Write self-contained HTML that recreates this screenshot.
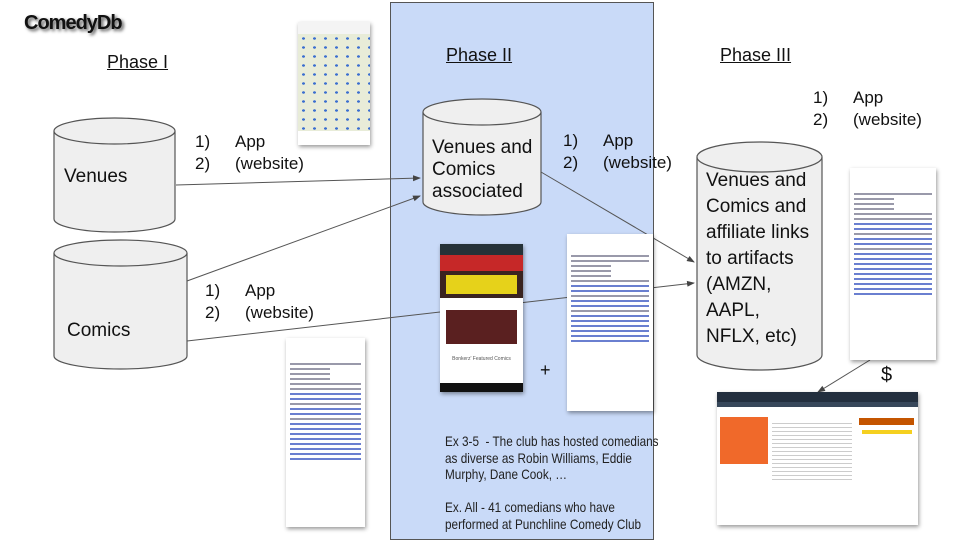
<!DOCTYPE html>
<html><head><style>
body{margin:0;width:960px;height:540px;position:relative;background:#fff;font-family:"Liberation Sans",sans-serif;overflow:hidden}
.t{position:absolute;white-space:nowrap;color:#111}
.ph{font-size:18px;text-decoration:underline}
.lab{font-size:17px;line-height:22px}
.lab span{display:inline-block;width:40px}
.shot{position:absolute;background:#fff;box-shadow:1px 2px 4px rgba(0,0,0,.4);overflow:hidden}
.wl{height:2px;background:#99a;margin:3px 4px}
.wlb{height:2px;background:#6a7fd0;margin:3px 4px}
</style></head><body>
<div style="position:absolute;left:390px;top:2px;width:264px;height:538px;background:#c9daf8;border:1px solid #555;box-sizing:border-box"></div>

<div class="t" style="left:24px;top:12px;font-size:20px;font-weight:bold;letter-spacing:-1px;text-shadow:2px 2px 3px #555">ComedyDb</div>
<div class="t ph" style="left:107px;top:52px">Phase I</div>
<div class="t ph" style="left:446px;top:45px">Phase II</div>
<div class="t ph" style="left:720px;top:45px">Phase III</div>

<svg width="960" height="540" style="position:absolute;left:0;top:0">
<defs><marker id="a" markerWidth="8" markerHeight="8" refX="7" refY="4" orient="auto"><path d="M0,1 L8,4 L0,7 z" fill="#444"/></marker></defs>
<g fill="#efefef" stroke="#555" stroke-width="1.2">
<path d="M54,131 v88 a60.5,13 0 0 0 121,0 v-88"/><ellipse cx="114.5" cy="131" rx="60.5" ry="13"/>
<path d="M54,253 v103 a66.5,13 0 0 0 133,0 v-103"/><ellipse cx="120.5" cy="253" rx="66.5" ry="13"/>
<path d="M423,112 v90 a59,13 0 0 0 118,0 v-90"/><ellipse cx="482" cy="112" rx="59" ry="13"/>
<path d="M697,157 v198 a62.5,15 0 0 0 125,0 v-198"/><ellipse cx="759.5" cy="157" rx="62.5" ry="15"/>
</g>
<g stroke="#555" stroke-width="1" marker-end="url(#a)">
<line x1="176" y1="185" x2="420" y2="178"/>
<line x1="187" y1="281" x2="420" y2="196"/>
<line x1="187" y1="341" x2="694" y2="283"/>
<line x1="541" y1="172" x2="694" y2="262"/>
<line x1="870" y1="360" x2="818" y2="392"/>
</g>
</svg>

<div class="t" style="left:64px;top:166px;font-size:19px">Venues</div>
<div class="t" style="left:67px;top:320px;font-size:19px">Comics</div>
<div class="t" style="left:432px;top:137px;font-size:19px;line-height:22px">Venues and<br>Comics<br>associated</div>
<div class="t" style="left:706px;top:168px;font-size:19px;line-height:26px">Venues and<br>Comics and<br>affiliate links<br>to artifacts<br>(AMZN,<br>AAPL,<br>NFLX, etc)</div>

<div class="t lab" style="left:195px;top:131px"><span>1)</span>App<br><span>2)</span>(website)</div>
<div class="t lab" style="left:205px;top:280px"><span>1)</span>App<br><span>2)</span>(website)</div>
<div class="t lab" style="left:563px;top:130px"><span>1)</span>App<br><span>2)</span>(website)</div>
<div class="t lab" style="left:813px;top:87px"><span>1)</span>App<br><span>2)</span>(website)</div>

<div class="t" style="left:540px;top:360px;font-size:18px">+</div>
<div class="t" style="left:881px;top:364px;font-size:20px">$</div>

<div class="t" style="left:445px;top:433px;font-size:14px;line-height:16.5px;color:#222;transform:scaleX(0.84);transform-origin:0 0">Ex 3-5&nbsp; - The club has hosted comedians<br>as diverse as Robin Williams, Eddie<br>Murphy, Dane Cook, …<br><br>Ex. All - 41 comedians who have<br>performed at Punchline Comedy Club</div>

<!-- map -->
<div class="shot" style="left:298px;top:22px;width:72px;height:123px">
<div style="height:12px;background:#f4f4f4"></div>
<div style="height:97px;background:#e8ecd8;background-image:radial-gradient(#3b6fd0 1.5px,transparent 1.6px);background-size:11px 9px"></div>
</div>
<!-- bonkerz -->
<div class="shot" style="left:440px;top:244px;width:83px;height:148px">
<div style="height:11px;background:#263238"></div>
<div style="height:16px;background:#c62828"></div>
<div style="height:27px;background:#3a2420;padding:4px 6px;box-sizing:border-box"><div style="height:19px;background:#e6d21a"></div></div>
<div style="height:12px"></div>
<div style="height:34px;margin:0 6px;background:#5a2020"></div>
<div style="font-size:5px;text-align:center;margin-top:12px;color:#555">Bonkerz' Featured Comics</div>
<div style="position:absolute;bottom:0;left:0;right:0;height:9px;background:#111"></div>
</div>
<!-- wiki phones -->
<div class="shot" style="left:567px;top:234px;width:86px;height:177px;padding-top:18px;box-sizing:border-box">
<div class="wl"></div><div class="wl"></div><div class="wl" style="width:40px"></div><div class="wl" style="width:40px"></div><div class="wl" style="width:40px"></div><div class="wl"></div><div class="wlb"></div><div class="wlb"></div><div class="wl"></div><div class="wlb"></div><div class="wlb"></div><div class="wl"></div><div class="wlb"></div><div class="wlb"></div><div class="wlb"></div><div class="wlb"></div><div class="wlb"></div><div class="wlb"></div>
</div>
<div class="shot" style="left:286px;top:338px;width:79px;height:189px;padding-top:22px;box-sizing:border-box">
<div class="wl"></div><div class="wl" style="width:40px"></div><div class="wl" style="width:40px"></div><div class="wl" style="width:40px"></div><div class="wl"></div><div class="wl"></div><div class="wlb"></div><div class="wlb"></div><div class="wl"></div><div class="wlb"></div><div class="wlb"></div><div class="wl"></div><div class="wlb"></div><div class="wlb"></div><div class="wlb"></div><div class="wlb"></div><div class="wlb"></div><div class="wlb"></div><div class="wlb"></div><div class="wlb"></div>
</div>
<div class="shot" style="left:850px;top:168px;width:86px;height:192px;padding-top:22px;box-sizing:border-box">
<div class="wl"></div><div class="wl" style="width:40px"></div><div class="wl" style="width:40px"></div><div class="wl" style="width:40px"></div><div class="wl"></div><div class="wl"></div><div class="wlb"></div><div class="wlb"></div><div class="wl"></div><div class="wlb"></div><div class="wlb"></div><div class="wl"></div><div class="wlb"></div><div class="wlb"></div><div class="wlb"></div><div class="wlb"></div><div class="wlb"></div><div class="wlb"></div><div class="wlb"></div><div class="wlb"></div><div class="wlb"></div>
</div>
<!-- amazon -->
<div class="shot" style="left:717px;top:392px;width:201px;height:133px">
<div style="height:10px;background:#232f3e"></div>
<div style="height:5px;background:#37475a"></div>
<div style="position:absolute;left:3px;top:25px;width:48px;height:47px;background:#f0692a"></div>
<div style="position:absolute;left:142px;top:26px;width:55px;height:7px;background:#c45500"></div>
<div style="position:absolute;left:145px;top:38px;width:50px;height:4px;background:#f5d020"></div>
<div style="position:absolute;left:55px;top:28px;width:80px;height:60px;background:repeating-linear-gradient(#fff 0 3px,#ccc 3px 4px)"></div>
</div>
</body></html>
